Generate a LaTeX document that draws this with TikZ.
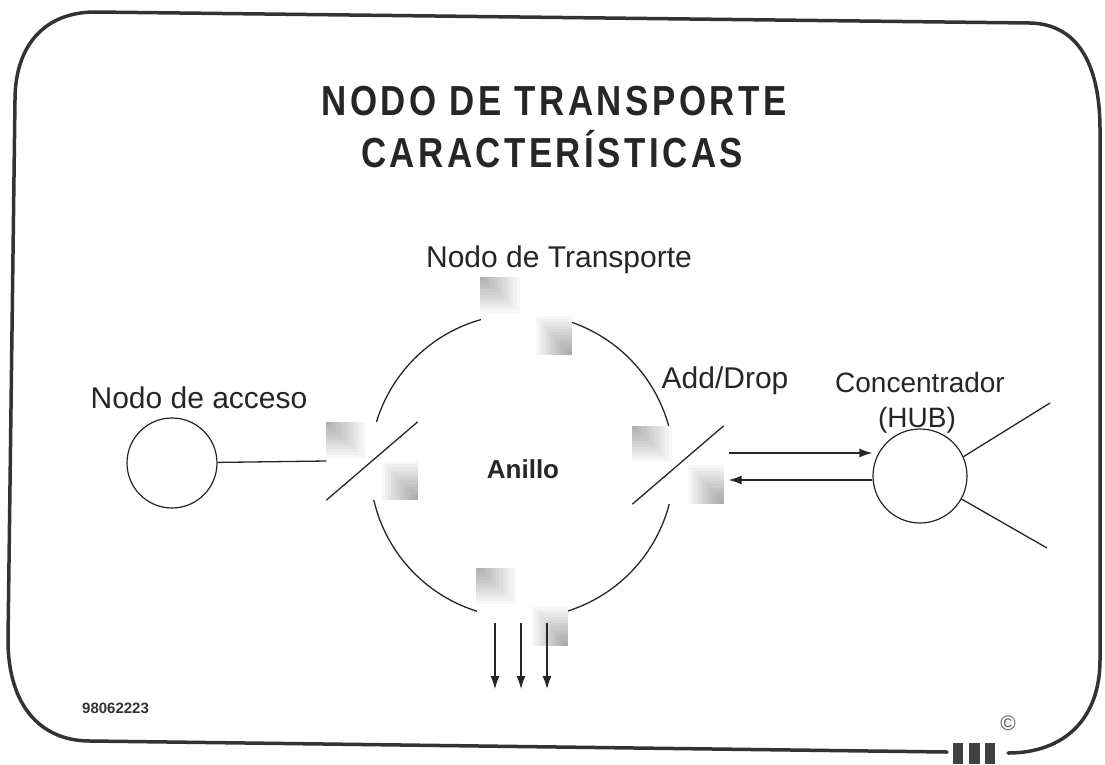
\documentclass[tikz,border=0pt]{standalone}
\usepackage{fontspec}
\setmainfont{Liberation Sans}
\newfontfamily\titlefont[LetterSpace=10]{Liberation Sans}
\usetikzlibrary{arrows.meta,calc}
\newcommand\admshade[1]{%
  \foreach \k in {1,...,12}{
    \fill[black, opacity=0.027] (#1.north west) rectangle ($(#1.north west)+(\k*3.3,\k*3.0)$);
    \fill[black, opacity=0.032] (#1.south east) rectangle ($(#1.south east)+(-\k*3.0,-\k*3.3)$);
  }
}
\begin{document}
\begin{tikzpicture}[x=1pt,y=-1pt,
  titl/.style={font=\titlefont\bfseries\fontsize{42}{50}\selectfont, anchor=base, inner sep=0, text=black!85, xscale=0.83},
  lbl/.style={font=\fontsize{30}{36}\selectfont, anchor=base, inner sep=0, text=black!85},
  hubl/.style={font=\fontsize{28}{34}\selectfont, anchor=base, inner sep=0, text=black!85},
  adm/.style={rectangle, fill=white, inner sep=0, minimum width=91pt, minimum height=78pt},
  ln/.style={line width=1.3pt, draw=black!85},
  arr/.style={ln, -{Latex[length=13pt,width=9pt]}},
  frame/.style={line width=3.5pt, draw=black!80, line cap=round},
  ringc/.style={circle, draw=black!85, line width=1.3pt, inner sep=0}
]
\useasboundingbox (0,0) rectangle (1105,764);
\fill[white] (0,0) rectangle (1105,764);

% frame
\draw[frame] (95,12) -- (1030,23) .. controls (1075,24) and (1100,60) .. (1100,130)
  -- (1100,660) .. controls (1100,718) and (1065,753) .. (1008,753);
\draw[frame] (947,752) -- (90,741) .. controls (40,741) and (8,705) .. (8,640)
  -- (15,100) .. controls (15,45) and (45,12) .. (95,12);
\fill[black!75] (953,743) rectangle (963,764);
\fill[black!75] (969,743) rectangle (980,764);
\fill[black!75] (985,743) rectangle (995,764);

% title
\node[titl] (t1) at (554,115) {NODO DE TRANSPORTE};
\node[titl] (t2) at (552,167) {CARACTERÍSTICAS};

% ring
\node[ringc, minimum size=304pt] (ring) at (522,466) {};
\node[font=\bfseries\fontsize{26}{30}\selectfont, anchor=base, inner sep=0, text=black!85] (anillo) at (523,478) {Anillo};

% ADM boxes
\node[adm] (tbox) at (526,316) {};
\node[adm] (lbox) at (372,461) {};
\node[adm] (rbox) at (678,465) {};
\node[adm] (bbox) at (522,607) {};
\admshade{tbox}
\admshade{lbox}
\admshade{rbox}
\admshade{bbox}
\draw[ln] (lbox.south west) -- (lbox.north east);
\draw[ln] (rbox.south west) -- (rbox.north east);

% labels
\node[lbl] (ltrans) at (559,267) {Nodo de Transporte};
\node[lbl] (lacc) at (199,408) {Nodo de acceso};
\node[lbl] (ladd) at (725,388) {Add/Drop};
\node[hubl] (lconc) at (920,392) {Concentrador};
\node[hubl] (lhub) at (917,427) {(HUB)};

% access node
\node[ringc, minimum size=90pt, line width=1.2pt] (acc) at (172,463) {};
\draw[ln] (acc) -- (lbox.west);

% hub
\node[ringc, minimum size=94pt, line width=1.2pt] (hub) at (920,476) {};
\path ([shift={(5pt,12pt)}]rbox.east) coordinate (a1s);
\path ([shift={(5pt,-15pt)}]rbox.east) coordinate (a2e);
\draw[arr] (a1s) -- (a1s -| hub.west);
\draw[arr] (a2e -| hub.west) -- (a2e);
\coordinate (h1) at (1050,403);
\coordinate (h2) at (1047,548);
\draw[ln] (hub.24) -- (h1);
\draw[ln] (hub.-29) -- (h2);

% drop arrows
\coordinate (d1) at (495,689);
\coordinate (d2) at (521,689);
\coordinate (d3) at (547,689);
\draw[arr] ([shift={(-27pt,-16pt)}]bbox.center) -- (d1);
\draw[arr] ([shift={(-1pt,-16pt)}]bbox.center) -- (d2);
\draw[arr] ([shift={(25pt,-16pt)}]bbox.center) -- (d3);

% footer
\node[font=\bfseries\fontsize{15}{18}\selectfont, anchor=base west, inner sep=0, text=black!80] (code) at (82,713) {98062223};
\node[font=\fontsize{21}{24}\selectfont, inner sep=0, text=black!65] (copy) at (1008,723) {©};
\end{tikzpicture}
\end{document}
